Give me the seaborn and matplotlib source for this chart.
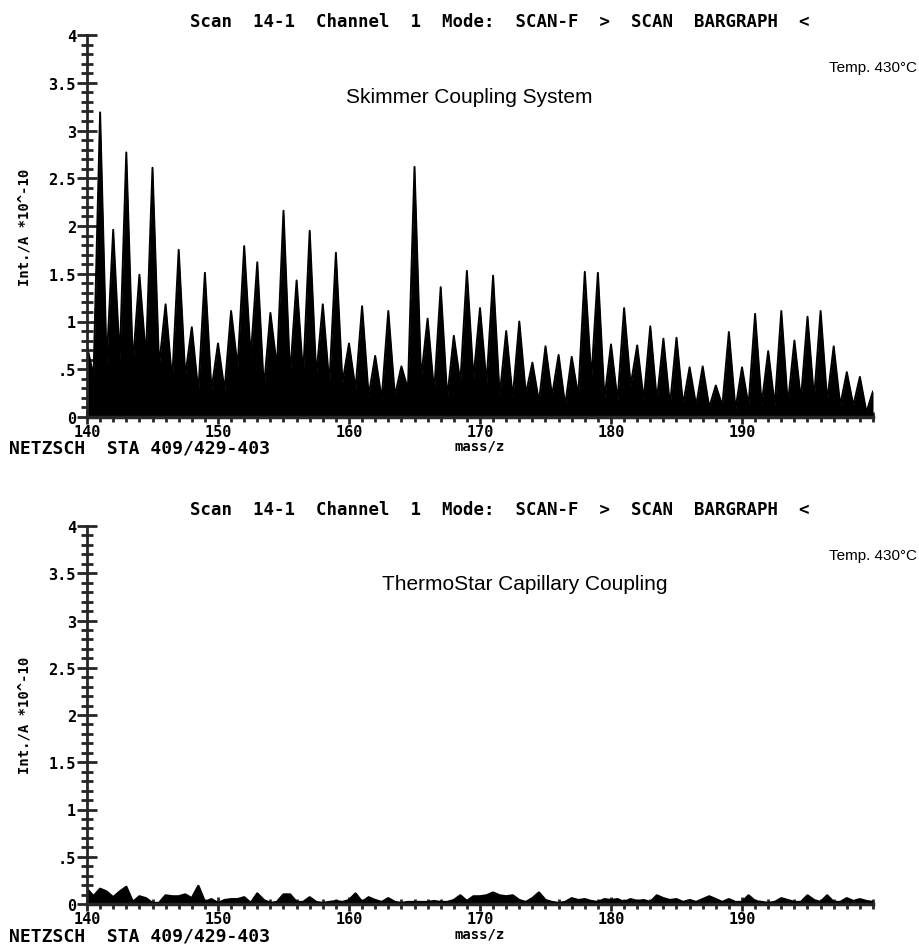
import numpy as np
import pandas as pd
import matplotlib
matplotlib.use("Agg")
import matplotlib.pyplot as plt
import seaborn as sns

# mass axis (integer masses) and intensities
masses = list(range(140, 201))

# Skimmer coupling: peak tops at each integer mass
skimmer_peaks = [0.74, 3.19, 1.96, 2.77, 1.49, 2.61, 1.18, 1.75, 0.94, 1.51,
                 0.77, 1.11, 1.79, 1.62, 1.09, 2.16, 1.43, 1.95, 1.18, 1.72,
                 0.77, 1.16, 0.64, 1.11, 0.53, 2.62, 1.03, 1.36, 0.85, 1.53,
                 1.14, 1.48, 0.90, 1.00, 0.57, 0.74, 0.65, 0.63, 1.52, 1.51,
                 0.76, 1.14, 0.75, 0.95, 0.82, 0.83, 0.52, 0.53, 0.33, 0.89,
                 0.52, 1.08, 0.69, 1.11, 0.80, 1.05, 1.11, 0.74, 0.47, 0.42,
                 0.27]
# valleys between neighbouring masses (at m + 0.5)
skimmer_valleys = [0.43, 0.55, 0.60, 0.55, 0.62, 0.53, 0.38, 0.43, 0.26, 0.28,
                   0.28, 0.52, 0.62, 0.30, 0.52, 0.43, 0.43, 0.43, 0.34, 0.36,
                   0.29, 0.22, 0.19, 0.22, 0.29, 0.40, 0.26, 0.20, 0.36, 0.40,
                   0.35, 0.22, 0.20, 0.24, 0.16, 0.22, 0.12, 0.22, 0.40, 0.19,
                   0.17, 0.33, 0.18, 0.17, 0.12, 0.13, 0.12, 0.10, 0.12, 0.08,
                   0.12, 0.13, 0.12, 0.13, 0.18, 0.19, 0.17, 0.12, 0.12, 0.05]

# ThermoStar capillary: signal every half mass unit, 140.0 ... 200.0
capillary_signal = [0.16, 0.08, 0.16, 0.13, 0.07, 0.13, 0.18, 0.02, 0.08, 0.06,
                    0.01, 0.01, 0.09, 0.08, 0.08, 0.10, 0.06, 0.19, 0.02, 0.05,
                    0.01, 0.04, 0.05, 0.05, 0.07, 0.01, 0.11, 0.04, 0.01, 0.02,
                    0.10, 0.10, 0.02, 0.02, 0.07, 0.02, 0.01, 0.02, 0.03, 0.02,
                    0.04, 0.11, 0.02, 0.07, 0.04, 0.02, 0.06, 0.02, 0.01, 0.02,
                    0.02, 0.02, 0.02, 0.03, 0.02, 0.02, 0.04, 0.09, 0.03, 0.08,
                    0.08, 0.09, 0.12, 0.09, 0.08, 0.09, 0.04, 0.02, 0.06, 0.12,
                    0.04, 0.02, 0.01, 0.02, 0.06, 0.04, 0.05, 0.03, 0.02, 0.05,
                    0.04, 0.05, 0.02, 0.05, 0.03, 0.04, 0.02, 0.09, 0.06, 0.04,
                    0.05, 0.02, 0.04, 0.02, 0.05, 0.08, 0.05, 0.02, 0.05, 0.02,
                    0.02, 0.09, 0.03, 0.02, 0.01, 0.02, 0.06, 0.04, 0.02, 0.02,
                    0.09, 0.04, 0.02, 0.09, 0.02, 0.02, 0.06, 0.03, 0.05, 0.03,
                    0.02]

y_ticks = [0, 0.5, 1, 1.5, 2, 2.5, 3, 3.5, 4]
y_labels = ['0', '.5', '1', '1.5', '2', '2.5', '3', '3.5', '4']
x_ticks = [140, 150, 160, 170, 180, 190]

title = 'Scan  14-1  Channel  1  Mode:  SCAN-F  >  SCAN  BARGRAPH  <'

# build profile tables
half = []
vals = []
for i, m in enumerate(masses):
    half.append(m)
    vals.append(skimmer_peaks[i])
    if i < len(skimmer_valleys):
        half.append(m + 0.5)
        vals.append(skimmer_valleys[i])
top_df = pd.DataFrame({'mass': half, 'int': vals})
cap_df = pd.DataFrame({'mass': [140 + 0.5 * k for k in range(len(capillary_signal))],
                       'int': capillary_signal})

sns.set_style('ticks')
plt.rcParams['font.family'] = ['DejaVu Sans Mono', 'DejaVu Sans']

fig = plt.figure(figsize=(9.2, 9.45), dpi=100)
W, H = 920, 945
mono = dict(family='DejaVu Sans Mono', fontweight='bold', color='black')
sans = dict(family='Liberation Sans', color='black')


def put(x, y, s, **kw):
    fig.text(x / W, 1 - y / H, s, **kw)


def style_axis(ax):
    ax.set_xlim(140, 200)
    ax.set_ylim(0, 4)
    for s in ['top', 'right']:
        ax.spines[s].set_visible(False)
    ax.spines['left'].set_linewidth(2)
    ax.spines['bottom'].set_linewidth(2.5)
    ax.set_yticks(y_ticks)
    ax.set_yticklabels(y_labels, **mono, fontsize=11)
    ax.set_yticks(np.arange(0, 4.01, 0.1), minor=True)
    ax.set_xticks(x_ticks)
    ax.set_xticklabels([str(t) for t in x_ticks], **mono, fontsize=11)
    ax.set_xticks(masses, minor=True)
    ax.tick_params(axis='y', which='major', direction='inout', length=14, width=2, pad=1)
    ax.tick_params(axis='y', which='minor', direction='inout', length=8, width=2)
    ax.tick_params(axis='x', which='major', direction='inout', length=10, width=2, pad=0)
    ax.tick_params(axis='x', which='minor', direction='inout', length=7, width=2)
    ax.set_xlabel('')
    ax.set_ylabel('')
    ax.patch.set_alpha(0)


ax1 = fig.add_axes([87 / W, 1 - 418 / H, 786 / W, 382 / H])
ax1.fill_between(top_df['mass'], 0, top_df['int'], color='black', lw=0)
sns.lineplot(data=top_df, x='mass', y='int', ax=ax1, color='black', lw=1.4)
style_axis(ax1)

ax2 = fig.add_axes([87 / W, 1 - 905 / H, 786 / W, 378 / H])
ax2.fill_between(cap_df['mass'], 0, cap_df['int'], color='black', lw=0)
sns.lineplot(data=cap_df, x='mass', y='int', ax=ax2, color='black', lw=1.8)
style_axis(ax2)

for off in [0, 488]:
    put(500, 22 + off, title, ha='center', va='center', fontsize=12.5, **mono)
    put(917, 68 + off, 'Temp. 430°C', ha='right', va='center', fontsize=11, **sans)
    put(9, 449 + off, 'NETZSCH  STA 409/429-403', ha='left', va='center', fontsize=13, **mono)
    put(480, 447 + off, 'mass/z', ha='center', va='center', fontsize=10, **mono)
    put(25, 227 + off, 'Int./A *10^-10', ha='center', va='center', rotation=90,
        fontsize=10, **mono)

put(469, 103, 'Skimmer Coupling System', ha='center', va='baseline', fontsize=15, **sans)
put(525, 590, 'ThermoStar Capillary Coupling', ha='center', va='baseline', fontsize=15, **sans)

fig.savefig('out.png', dpi=100, facecolor='white')
